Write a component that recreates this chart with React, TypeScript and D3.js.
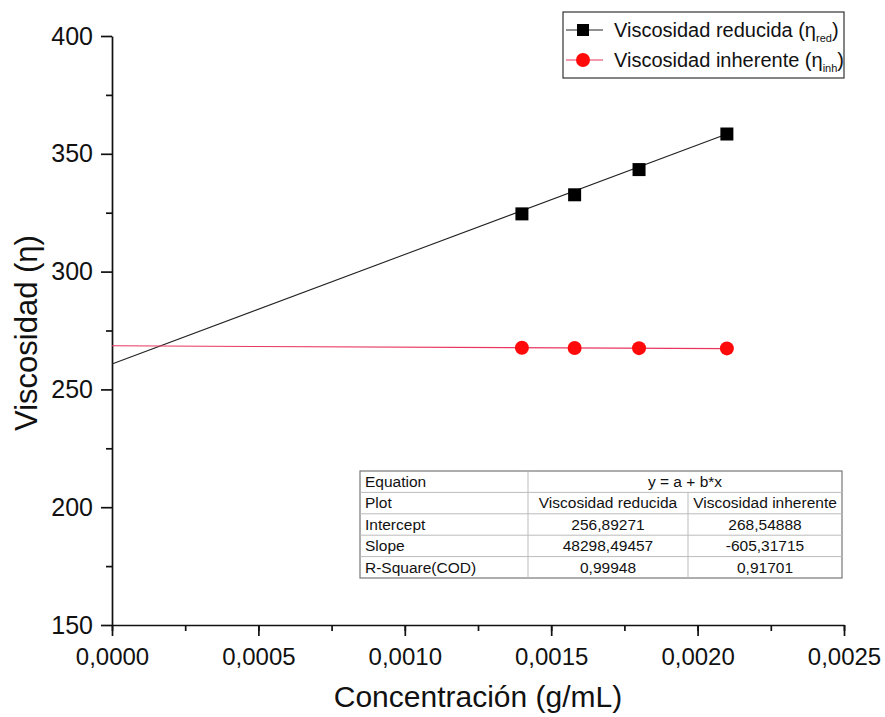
import React, { useEffect, useRef } from 'react';
import * as d3 from 'd3';

// concentration (g/mL)
const conc = [0.0014, 0.00158, 0.0018, 0.0021];
const reducida = [324.5, 332.6, 343.3, 358.4];
const inherente = [267.7, 267.6, 267.5, 267.4];

// fitted lines as drawn (start at x = 0, end at last point)
const fitReducida = [260.8, 358.4];
const fitInherente = [268.5, 267.3];

const yTicks = [150, 200, 250, 300, 350, 400];
const xTicks = [0, 0.0005, 0.001, 0.0015, 0.002, 0.0025];

const tableRows = [
  ['Equation', 'y = a + b*x', ''],
  ['Plot', 'Viscosidad reducida', 'Viscosidad inherente'],
  ['Intercept', '256,89271', '268,54888'],
  ['Slope', '48298,49457', '-605,31715'],
  ['R-Square(COD)', '0,99948', '0,91701'],
];

const App = () => {
  const ref = useRef<SVGSVGElement>(null);

  const drawChart = () => {
    const svgWidth = 885,
      svgHeight = 717;
    const margin = { top: 36, right: 41, bottom: 92, left: 112 };
    const width = svgWidth - margin.left - margin.right;
    const height = svgHeight - margin.top - margin.bottom;
    const font = 'Liberation Sans, Arial, sans-serif';
    const red = '#e8365f';

    const svg = d3.select(ref.current);
    svg.selectAll('*').remove();
    svg.append('rect').attr('width', svgWidth).attr('height', svgHeight).attr('fill', '#fff');

    const g = svg
      .append('g')
      .attr('transform', 'translate(' + margin.left + ',' + margin.top + ')');

    const x = d3.scaleLinear().domain([0, 0.0025]).range([0, width]);
    const y = d3.scaleLinear().domain([150, 400]).range([height, 0]);

    const fmtX = (d: number) => d3.format('.4f')(d).replace('.', ',');

    // x axis
    g.append('g')
      .attr('transform', 'translate(0,' + height + ')')
      .call(
        d3.axisBottom(x).tickValues(d3.range(0, 0.0025001, 0.00025)).tickSize(6).tickFormat(() => '')
      )
      .call((s) => s.select('.domain').remove());
    g.append('g')
      .attr('transform', 'translate(0,' + height + ')')
      .call(d3.axisBottom(x).tickValues(xTicks).tickSize(11).tickSizeOuter(0).tickPadding(12).tickFormat((d) => fmtX(d as number)))
      .call((s) => s.selectAll('text').attr('font-size', 24).attr('font-family', font).attr('fill', '#111'));

    // y axis
    g.append('g')
      .call(d3.axisLeft(y).tickValues(d3.range(175, 400, 50)).tickSize(6).tickFormat(() => ''))
      .call((s) => s.select('.domain').remove());
    g.append('g')
      .call(d3.axisLeft(y).tickValues(yTicks).tickSize(11).tickSizeOuter(0).tickPadding(8))
      .call((s) => s.selectAll('text').attr('font-size', 25).attr('font-family', font).attr('fill', '#111'));
    g.selectAll('.domain, .tick line').attr('stroke', '#111').attr('stroke-width', 1.7);

    // axis titles
    svg
      .append('text')
      .attr('x', margin.left + x(0.00125))
      .attr('y', 707)
      .attr('text-anchor', 'middle')
      .attr('font-size', 30)
      .attr('font-family', font)
      .attr('fill', '#111')
      .text('Concentración (g/mL)');
    svg
      .append('text')
      .attr('transform', 'translate(37,' + 333 + ') rotate(-90)')
      .attr('text-anchor', 'middle')
      .attr('font-size', 31)
      .attr('font-family', font)
      .attr('fill', '#111')
      .text('Viscosidad (η)');

    // fit lines
    const xEnd = conc[conc.length - 1];
    g.append('line')
      .attr('x1', x(0)).attr('y1', y(fitReducida[0]))
      .attr('x2', x(xEnd)).attr('y2', y(fitReducida[1]))
      .attr('stroke', '#222').attr('stroke-width', 1.1);
    g.append('line')
      .attr('x1', x(0)).attr('y1', y(fitInherente[0]))
      .attr('x2', x(xEnd)).attr('y2', y(fitInherente[1]))
      .attr('stroke', red).attr('stroke-width', 1.1);

    // markers
    g.selectAll('.sq')
      .data(conc)
      .enter()
      .append('rect')
      .attr('x', (d) => x(d) - 6.5)
      .attr('y', (d, i) => y(reducida[i]) - 6.5)
      .attr('width', 13)
      .attr('height', 13)
      .attr('fill', '#000');
    g.selectAll('.ci')
      .data(conc)
      .enter()
      .append('circle')
      .attr('cx', (d) => x(d))
      .attr('cy', (d, i) => y(inherente[i]))
      .attr('r', 7)
      .attr('fill', '#ff0a0a');

    // legend
    const lg = svg.append('g').attr('transform', 'translate(563,12)');
    lg.append('rect').attr('width', 281).attr('height', 66).attr('fill', '#fff').attr('stroke', '#333').attr('stroke-width', 1.2);
    const items = [
      { label: 'Viscosidad reducida (η', sub: 'red', color: '#222', shape: 'square' },
      { label: 'Viscosidad inherente (η', sub: 'inh', color: red, shape: 'circle' },
    ];
    items.forEach((it, i) => {
      const cy = 18 + i * 30;
      lg.append('line').attr('x1', 3).attr('x2', 40).attr('y1', cy).attr('y2', cy).attr('stroke', it.color).attr('stroke-width', 1.1);
      if (it.shape === 'square') {
        lg.append('rect').attr('x', 14).attr('y', cy - 6).attr('width', 12).attr('height', 12).attr('fill', '#000');
      } else {
        lg.append('circle').attr('cx', 20).attr('cy', cy).attr('r', 7).attr('fill', '#ff0a0a');
      }
      const t = lg
        .append('text')
        .attr('x', 51)
        .attr('y', cy + 7)
        .attr('font-size', 20)
        .attr('font-family', font)
        .attr('fill', '#111');
      t.append('tspan').text(it.label);
      t.append('tspan').attr('font-size', 11).attr('dy', 5).text(it.sub);
      t.append('tspan').attr('dy', -5).text(')');
    });

    // fit results table
    const tb = svg.append('g').attr('transform', 'translate(360,471)');
    const colX = [0, 168, 328, 482];
    const rowH = 21.4;
    tb.append('rect')
      .attr('width', colX[3])
      .attr('height', rowH * tableRows.length)
      .attr('fill', '#fff')
      .attr('stroke', '#777')
      .attr('stroke-width', 1.2);
    tableRows.forEach((r, i) => {
      if (i > 0) {
        tb.append('line').attr('x1', 0).attr('x2', colX[3]).attr('y1', i * rowH).attr('y2', i * rowH).attr('stroke', '#bbb');
      }
      tb.append('line').attr('x1', colX[1]).attr('x2', colX[1]).attr('y1', i * rowH).attr('y2', (i + 1) * rowH).attr('stroke', '#bbb');
      if (i > 0) {
        tb.append('line').attr('x1', colX[2]).attr('x2', colX[2]).attr('y1', i * rowH).attr('y2', (i + 1) * rowH).attr('stroke', '#bbb');
      }
      const ty = i * rowH + 16;
      const txt = (xx: number, s: string, anchor: string) =>
        tb.append('text').attr('x', xx).attr('y', ty).attr('text-anchor', anchor)
          .attr('font-size', 15.5).attr('font-family', font).attr('fill', '#111').text(s);
      txt(5, r[0], 'start');
      if (i === 0) {
        txt((colX[1] + colX[3]) / 2, r[1], 'middle');
      } else {
        txt((colX[1] + colX[2]) / 2, r[1], 'middle');
        txt((colX[2] + colX[3]) / 2, r[2], 'middle');
      }
    });
  };

  useEffect(() => {
    drawChart();
  }, []);

  return (
    <svg
      ref={ref}
      width={885}
      height={717}
      style={{ display: 'block', position: 'fixed', top: 0, left: 0 }}
    />
  );
};

export default App;
